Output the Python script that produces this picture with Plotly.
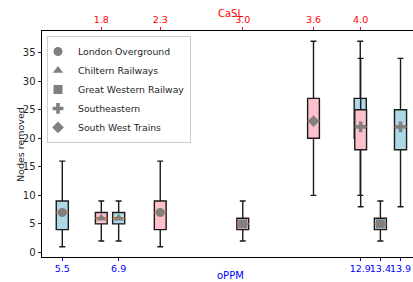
import plotly.graph_objects as go

# ---- data ----
operators = ["London Overground", "Chiltern Railways", "Great Western Railway",
             "Southeastern", "South West Trains"]
oppm = [5.5, 6.9, 13.4, 13.9, 12.9]
casl = [2.3, 1.8, 3.0, 4.0, 3.6]
q1 = [4, 5, 4, 18, 20]
median = [7, 6, 5, 22, 23]
q3 = [9, 7, 6, 25, 27]
lower = [1, 2, 2, 8, 10]
upper = [16, 9, 9, 34, 37]
mean = [7, 6, 5, 22, 23]
oppm_ticks = [5.5, 6.9, 12.9, 13.4, 13.9]
casl_ticks = [1.8, 2.3, 3.0, 3.6, 4.0]
yticks = [0, 5, 10, 15, 20, 25, 30, 35]

# ---- style ----
symbols = ["circle", "triangle-up", "square", "cross", "diamond"]
FONT = "DejaVu Sans"
W_OPPM = 0.3
W_CASL = 0.1

fig = go.Figure()


def add_group(pos, width, fill, xa, legend):
    fig.add_trace(go.Box(
        x=pos, q1=q1, median=median, q3=q3, lowerfence=lower, upperfence=upper,
        width=width, fillcolor=fill, line=dict(color="#1a1a1a", width=1.4),
        whiskerwidth=0.5, boxpoints=False, xaxis=xa, yaxis="y",
        showlegend=False, hoverinfo="skip"))
    mx, my = [], []
    for p, m in zip(pos, median):
        mx += [p - width / 2, p + width / 2, None]
        my += [m, m, None]
    fig.add_trace(go.Scatter(x=mx, y=my, mode="lines", xaxis=xa, yaxis="y",
                             line=dict(color="#ff7f0e", width=1.5),
                             showlegend=False, hoverinfo="skip"))
    for i, name in enumerate(operators):
        fig.add_trace(go.Scatter(
            x=[pos[i]], y=[mean[i]], mode="markers", name=name, xaxis=xa, yaxis="y",
            marker=dict(symbol=symbols[i], color="#808080", size=9, line=dict(width=0)),
            showlegend=legend, hoverinfo="skip"))


add_group(oppm, W_OPPM, "#add8e6", "x", False)
add_group(casl, W_CASL, "#ffc0cb", "x2", True)

fig.update_layout(
    width=413, height=282,
    margin=dict(l=42, r=0, t=31, b=25, autoexpand=False),
    paper_bgcolor="white", plot_bgcolor="white",
    font=dict(family=FONT, size=10, color="#262626"),
    boxmode="overlay",
    xaxis=dict(range=[4.996, 14.21], tickvals=oppm_ticks,
               ticktext=[str(v) for v in oppm_ticks], tickangle=0, automargin=False,
               tickfont=dict(color="blue", size=9.5), ticks="outside",
               tickcolor="blue", ticklen=3, showline=True, linecolor="black",
               linewidth=1, showgrid=False, zeroline=False, ticklabeloverflow="allow"),
    xaxis2=dict(range=[1.297, 4.444], overlaying="x", side="top", anchor="y",
                tickvals=casl_ticks, ticktext=[str(v) for v in casl_ticks],
                automargin=False,
                tickangle=0, tickfont=dict(color="red", size=9.5), ticks="outside",
                tickcolor="red", ticklen=3, showline=True, linecolor="black",
                linewidth=1, showgrid=False, zeroline=False),
    yaxis=dict(range=[-0.8, 38.8], tickvals=yticks, ticks="outside", ticklen=3.5,
               automargin=False,
               tickcolor="#262626", showline=True, linecolor="black", linewidth=1,
               showgrid=False, zeroline=False, tickfont=dict(size=10)),
    legend=dict(x=0.0135, y=0.978, xanchor="left", yanchor="top", indentation=-10,
                font=dict(size=9.3, color="#262626"), bgcolor="rgba(255,255,255,0.8)",
                bordercolor="#cccccc", borderwidth=1, tracegroupgap=0),
    annotations=[
        dict(text="oPPM", xref="paper", yref="paper", x=0.509, y=-0.084,
             xanchor="center", yanchor="middle", showarrow=False,
             font=dict(color="blue", size=10)),
        dict(text="CaSL", xref="paper", yref="paper", x=0.509, y=1.0796,
             xanchor="center", yanchor="middle", showarrow=False,
             font=dict(color="red", size=10)),
        dict(text="Nodes removed", xref="paper", yref="paper", x=-0.0593, y=0.5,
             xanchor="center", yanchor="middle", textangle=-90, showarrow=False,
             font=dict(color="#262626", size=9.5)),
    ],
)

# remove the default page margin so the 413x282 figure fills the window exactly
fig.write_html("out.html", config={"displayModeBar": False},
               post_script="document.body.style.margin='0';"
                           "document.body.style.overflow='hidden';")
